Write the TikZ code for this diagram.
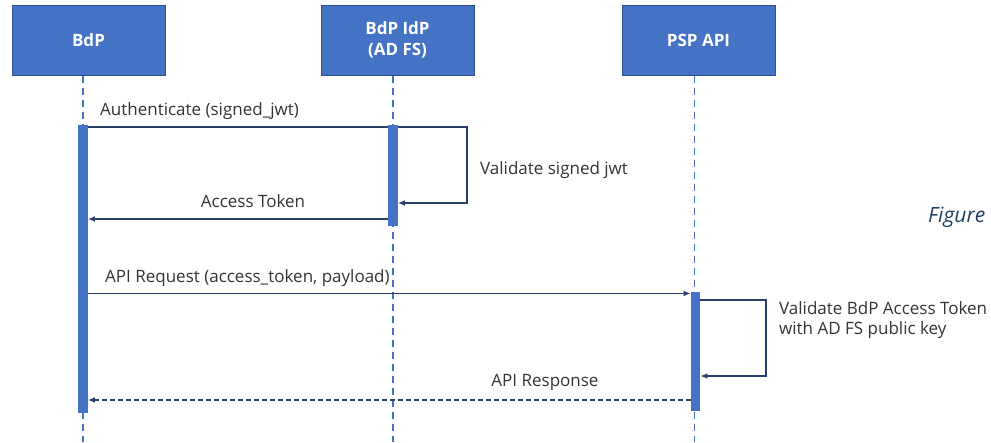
\documentclass[tikz,border=0pt]{standalone}
\usepackage{fontspec}
\setmainfont{Open Sans}
\usetikzlibrary{arrows.meta}
\definecolor{boxfill}{HTML}{4472C4}
\definecolor{boxline}{HTML}{2F4F8F}
\definecolor{lifec}{HTML}{4472C4}
\definecolor{msgc}{HTML}{2B3F6B}
\definecolor{txtc}{HTML}{333333}
\definecolor{figc}{HTML}{1F3F5F}
\tikzset{
  actor/.style={draw=boxline, line width=1pt, fill=boxfill, minimum width=153pt, minimum height=70pt, inner sep=0pt, text=white, font=\fontsize{17}{21}\selectfont\bfseries, align=center},
  lifeline/.style={draw=lifec, line width=1.6pt, dash pattern=on 7pt off 5pt},
  actbar/.style={draw=none, fill=boxfill, minimum width=9.5pt, inner sep=0pt},
  msg/.style={draw=msgc, line width=1.4pt, -{Latex[length=7pt,width=6pt]}},
  msgnohead/.style={draw=msgc, line width=1.4pt},
  reply/.style={msg, dash pattern=on 5pt off 3pt},
  lbl/.style={text=txtc, font=\fontsize{17}{20}\selectfont, inner sep=0pt},
}
\begin{document}
\begin{tikzpicture}[x=1pt,y=-1pt]
\useasboundingbox (0,0) rectangle (991,442);
% actors
\node[actor] (bdp) at (88.5,40) {BdP};
\node[actor] (idp) at (397.5,40) {BdP IdP\\(AD FS)};
\node[actor] (psp) at (698.5,40) {PSP API};
% lifelines
\coordinate (bdpend) at (83,442);
\coordinate (idpend) at (393,442);
\coordinate (pspend) at (694.5,442);
\draw[lifeline] (bdp.south -| bdpend) -- (bdpend);
\draw[lifeline] (idp.south -| idpend) -- (idpend);
\draw[lifeline] (psp.south -| pspend) -- (pspend);
% activation bars
\node[actbar, minimum height=288pt] (bdpbar) at (83,269) {};
\node[actbar, minimum height=101pt] (idpbar) at (393,175.5) {};
\node[actbar, minimum height=119pt] (pspbar) at (695.5,351.5) {};
% message 1
\coordinate (m1) at (0,127);
\draw[msgnohead] (bdpbar.east |- m1) -- (idpbar.west |- m1);
\node[lbl, anchor=base west] (l1) at (100,115) {Authenticate (signed\_jwt)};
% self loop idp
\coordinate (s1a) at (0,127);
\coordinate (s1b) at (0,203);
\coordinate (s1x) at (467,0);
\draw[msg] (idpbar.east |- s1a) -- (s1x |- s1a) -- (s1x |- s1b) -- (idpbar.east |- s1b);
\node[lbl, anchor=base west] (l2) at (480,174) {Validate signed jwt};
% access token
\coordinate (m2) at (0,219);
\draw[msg] (idpbar.west |- m2) -- (bdpbar.east |- m2);
\node[lbl, anchor=base] (l3) at (253,207) {Access Token};
% api request
\coordinate (m3) at (0,293.5);
\draw[msg] (bdpbar.east |- m3) -- (pspbar.west |- m3);
\node[lbl, anchor=base west] (l4) at (105,282.5) {API Request (access\_token, payload)};
% self loop psp
\coordinate (s2a) at (0,300);
\coordinate (s2b) at (0,376);
\coordinate (s2x) at (766,0);
\draw[msg] (pspbar.east |- s2a) -- (s2x |- s2a) -- (s2x |- s2b) -- (pspbar.east |- s2b);
\node[lbl, anchor=base west, align=left] (l5) at (779,334) {Validate BdP Access Token\\with AD FS public key};
% api response
\coordinate (m4) at (0,400);
\draw[reply] (pspbar.west |- m4) -- (bdpbar.east |- m4);
\node[lbl, anchor=base] (l6) at (545,386) {API Response};
% figure caption
\node[text=figc, font=\fontsize{21}{25}\selectfont\itshape, anchor=base west, inner sep=0pt] (fig) at (928,222) {Figure};
\end{tikzpicture}
\end{document}
